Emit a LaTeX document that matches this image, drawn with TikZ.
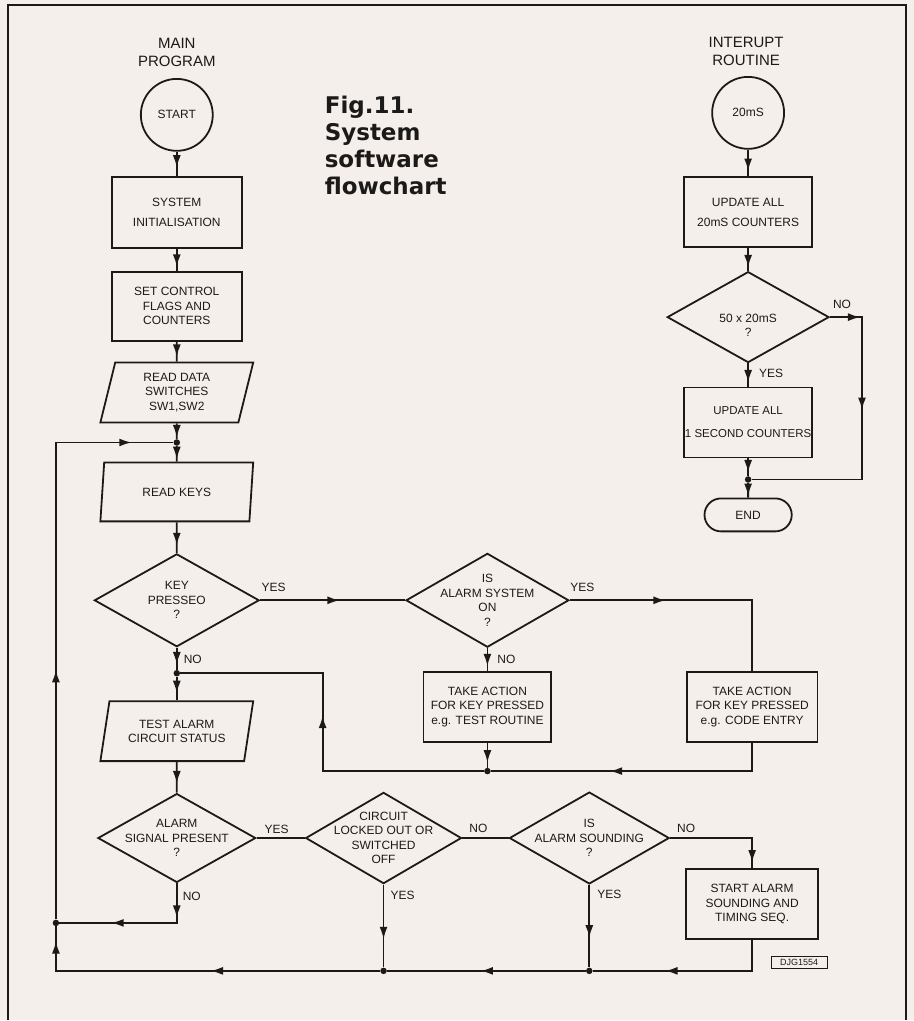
\documentclass[tikz,border=0pt]{standalone}
\usepackage{fontspec}
\setmainfont{Liberation Sans}
\newfontfamily\figfont{DejaVu Sans}
\usetikzlibrary{shapes.geometric,shapes.misc,decorations.markings,arrows.meta}

\definecolor{paper}{RGB}{244,239,234}
\definecolor{ink}{RGB}{28,26,25}

\begin{document}
\begin{tikzpicture}[x=1pt,y=-1pt,
    every node/.style={text=ink, font=\fontsize{12}{14.5}\selectfont},
    wire/.style={draw=ink, line width=1.8pt},
    arr/.style={postaction={decorate, decoration={markings,
        mark=at position #1 with {\arrow{Latex[length=12.5pt,width=8pt]}}}}},
    box/.style={wire, rectangle, align=center, inner sep=1pt, minimum width=128, minimum height=70},
    io/.style={wire, trapezium, trapezium left angle=70, trapezium right angle=110,
        trapezium stretches body, align=center, inner sep=1pt, minimum width=153, minimum height=60},
    decision/.style={wire, diamond, align=center, inner sep=-15pt, minimum width=160, minimum height=92},
    term/.style={wire, circle, minimum size=72, inner sep=0},
    dot/.style={circle, fill=ink, inner sep=0, minimum size=6.5},
    lbl/.style={inner sep=1pt},
    title/.style={align=center, font=\fontsize{15}{18}\selectfont}]

% Фон и рамка
\fill[paper] (0,0) rectangle (915,1021);
\draw[ink, line width=2.4pt] (8,1021) -- (8,5) -- (907,5) -- (907,1021);

% Подпись рисунка
\node[anchor=north west, inner sep=0, align=left,
      font=\figfont\bfseries\fontsize{23}{27}\selectfont] (caption) at (325,96)
      {Fig.11.\\System\\software\\flowchart};

% Главная программа
\node[title] (mainlbl) at (177,52) {MAIN\\PROGRAM};
\node[term] (start) at (177,115) {START};
\node[box, minimum width=130, minimum height=71] (init) at (177,212.5) {SYSTEM\\[6pt]INITIALISATION};
\node[box, minimum width=130, minimum height=69] (setflags) at (177,306.5) {SET CONTROL\\FLAGS AND\\COUNTERS};
\node[io] (readdata) at (177,393) {READ DATA\\SWITCHES\\SW1,SW2};
\node[dot] (j1) at (177,443) {};
\node[io, minimum height=59] (readkeys) at (177,492.5) {READ KEYS};
\node[decision, minimum width=165, minimum height=93] (keypressed) at (177,601) {KEY\\PRESSEO\\?};
\node[dot] (j2) at (177,674) {};
\node[io] (testalarm) at (177,732) {TEST ALARM\\CIRCUIT STATUS};
\node[decision, minimum width=158, minimum height=89] (signal) at (177,839) {ALARM\\SIGNAL PRESENT\\?};
\node[dot] (j3) at (56,924) {};

% Обработка клавиш и тревоги
\node[decision, minimum width=163, minimum height=94] (alarmon) at (488,601) {IS\\ALARM SYSTEM\\ON\\?};
\node[box] (actiontest) at (488,707.5) {TAKE ACTION\\FOR KEY PRESSED\\e.g. TEST ROUTINE};
\node[dot] (j4) at (488,772) {};
\coordinate (bend) at (323,772);
\node[box, minimum width=131] (actioncode) at (753,707.5) {TAKE ACTION\\FOR KEY PRESSED\\e.g. CODE ENTRY};
\node[decision, minimum width=156, minimum height=91] (locked) at (384,839) {CIRCUIT\\LOCKED OUT OR\\SWITCHED\\OFF};
\node[dot] (j5) at (384,972) {};
\node[decision] (sounding) at (590,839) {IS\\ALARM SOUNDING\\?};
\node[dot] (j6) at (590,972) {};
\node[box, minimum width=132] (startalarm) at (753,905) {START ALARM\\SOUNDING AND\\TIMING SEQ.};
\node[draw=ink, line width=0.9pt, font=\fontsize{9}{9}\selectfont, inner sep=1pt,
      minimum width=56, minimum height=12] (djg) at (800,964) {DJG1554};

% Прерывание
\node[title] (intlbl) at (747,51) {INTERUPT\\ROUTINE};
\node[term] (tick) at (749,113) {20mS};
\node[box] (upd20) at (749,212.5) {UPDATE ALL\\[6pt]20mS COUNTERS};
\node[decision, minimum width=162, minimum height=91] (fifty) at (749,317.5) {\strut\\50 x 20mS\\?};
\coordinate (nocorner) at (863,317.5);
\node[box, font=\fontsize{11.5}{14}\selectfont] (upd1s) at (749,423) {UPDATE ALL\\[9pt]1 SECOND COUNTERS};
\node[dot] (j7) at (749,480) {};
\node[wire, rounded rectangle, minimum width=94, minimum height=33] (endn) at (749,515.5) {END};

% Метки ДА / НЕТ
\foreach \n/\x/\y/\t in {ya/274/588/YES, na/193/660/NO, yb/583/588/YES, nb/507/660/NO,
    yc/277/830/YES, nc/192/897/NO, yd/403/896/YES, nd/479/829/NO,
    ne/687/829/NO, ye/610/895/YES, nf/843/305/NO, yf/772/374/YES}
    \node[lbl] (\n) at (\x,\y) {\t};

% Линии главной программы
\draw[wire, arr=0.66] (start) -- (init);
\draw[wire, arr=0.82] (init) -- (setflags);
\draw[wire, arr=0.76] (setflags) -- (readdata);
\draw[wire, arr=0.9] (readdata) -- (j1);
\draw[wire, arr=0.85] (j1) -- (readkeys);
\draw[wire, arr=0.75] (readkeys) -- (keypressed);
\draw[wire, arr=0.55] (keypressed.east) -- (alarmon.west);
\draw[wire, arr=0.76] (keypressed) -- (j2);
\draw[wire, arr=0.7] (j2) -- (testalarm);
\draw[wire, arr=0.7] (testalarm) -- (signal);
\draw[wire] (signal.east) -- (locked.west);
\draw[wire] (sounding.west) -- (locked.east);
\draw[wire, arr=0.22, arr=0.67] (signal.south) |- (j3);
\draw[wire, arr=0.66] (locked) -- (j5);
\draw[wire, arr=0.64] (sounding) -- (j6);
\draw[wire, arr=0.95] (sounding.east) -| (startalarm.north);
\draw[wire, arr=0.62] (startalarm.south) |- (j6);
\draw[wire, arr=0.53] (j6) -- (j5);
\draw[wire, arr=0.46, arr=0.96] (j5) -| (j3);
\draw[wire, arr=0.42, arr=0.93] (j3) |- (j1);
\draw[wire, arr=0.8] (alarmon) -- (actiontest);
\draw[wire, arr=0.38] (alarmon.east) -| (actioncode.north);
\draw[wire, arr=0.8] (actiontest) -- (j4);
\draw[wire, arr=0.59] (actioncode.south) |- (j4);
\draw[wire, arr=0.54] (j4) -- (bend) |- (j2);

% Линии прерывания
\draw[wire, arr=0.8] (tick) -- (upd20);
\draw[wire, arr=0.85] (upd20) -- (fifty);
\draw[wire, arr=0.82] (fifty) -- (upd1s);
\draw[wire, arr=0.8] (upd1s) -- (j7);
\draw[wire, arr=0.9] (j7) -- (endn);
\draw[wire, arr=0.1, arr=0.41] (fifty.east) -- (nocorner) |- (j7);

\end{tikzpicture}
\end{document}
